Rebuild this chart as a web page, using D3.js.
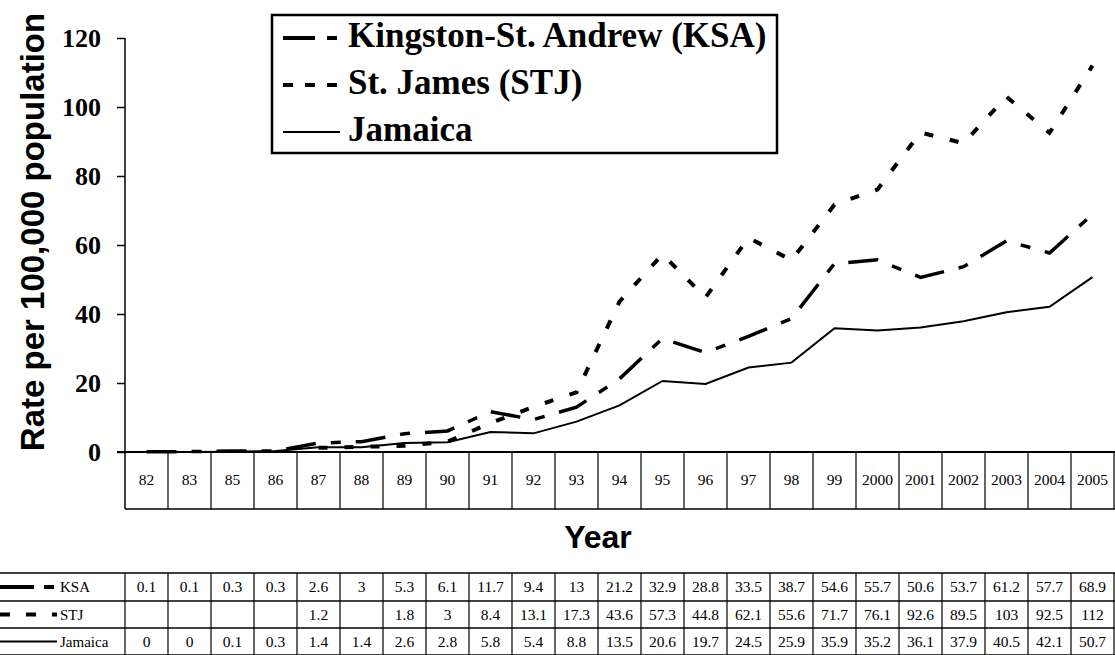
<!DOCTYPE html>
<html>
<head>
<meta charset="utf-8">
<script src="https://cdn.jsdelivr.net/npm/d3@7"></script>
<style>
html,body{margin:0;padding:0;background:#fff;}
svg{display:block;}
</style>
</head>
<body>
<svg id="chart" width="1115" height="655"></svg>
<script>
const years = ["82","83","85","86","87","88","89","90","91","92","93","94","95","96","97","98","99","2000","2001","2002","2003","2004","2005"];
const ksa = [0.1,0.1,0.3,0.3,2.6,3,5.3,6.1,11.7,9.4,13,21.2,32.9,28.8,33.5,38.7,54.6,55.7,50.6,53.7,61.2,57.7,68.9];
const stj = [null,null,null,null,1.2,null,1.8,3,8.4,13.1,17.3,43.6,57.3,44.8,62.1,55.6,71.7,76.1,92.6,89.5,103,92.5,112];
const jam = [0,0,0.1,0.3,1.4,1.4,2.6,2.8,5.8,5.4,8.8,13.5,20.6,19.7,24.5,25.9,35.9,35.2,36.1,37.9,40.5,42.1,50.7];
const yTicks = [0,20,40,60,80,100,120];
const seriesNames = ["Kingston-St. Andrew (KSA)","St. James (STJ)","Jamaica"];
const seriesShort = ["KSA","STJ","Jamaica"];
const yTitle = "Rate per 100,000 population";
const xTitle = "Year";

const serif = "'Liberation Serif','Times New Roman',serif";
const sans = "'Liberation Sans',Arial,sans-serif";
const styles = [
  {w:3.5, dash:"30,15,10,15"},
  {w:4, dash:"9,17"},
  {w:2, dash:null}
];

const svg = d3.select("#chart");
const x = d3.scaleBand().domain(years).range([125,1114]).padding(0);
const y = d3.scaleLinear().domain([0,120]).range([452,38]);
const cx = d => x(d) + x.bandwidth()/2;

// y axis
const yAxis = d3.axisLeft(y).tickValues(yTicks).tickSize(8).tickPadding(16).tickFormat(d3.format("d"));
const gy = svg.append("g").attr("transform","translate(125,0)").call(yAxis);
gy.select(".domain").remove();
gy.selectAll(".tick line").attr("stroke","#000").attr("stroke-width",1.5);
gy.selectAll(".tick text").attr("font-family",serif).attr("font-weight","bold").attr("font-size",26).attr("fill","#000");
svg.append("line").attr("x1",125).attr("x2",125).attr("y1",y(120)).attr("y2",509).attr("stroke","#000").attr("stroke-width",1.5);

// x axis / category table
const tableTop = y(0), tableBot = 509;
svg.append("line").attr("x1",117).attr("x2",1115).attr("y1",tableTop).attr("y2",tableTop).attr("stroke","#000").attr("stroke-width",2);
svg.append("line").attr("x1",125).attr("x2",1115).attr("y1",tableBot).attr("y2",tableBot).attr("stroke","#000").attr("stroke-width",1.5);
svg.append("g").selectAll("line").data(years.slice(1).concat(["end"])).join("line")
  .attr("x1",d=> d==="end"?1114:x(d)).attr("x2",d=> d==="end"?1114:x(d))
  .attr("y1",tableTop).attr("y2",tableBot).attr("stroke","#000").attr("stroke-width",1.2);
svg.append("g").selectAll("text").data(years).join("text")
  .attr("x",d=>cx(d)).attr("y",(tableTop+tableBot)/2+4)
  .attr("text-anchor","middle").attr("font-family",serif).attr("font-size",15.5).text(d=>d);

// titles
svg.append("text").attr("transform","translate(44,232) rotate(-90)").attr("text-anchor","middle")
  .attr("font-family",sans).attr("font-weight","bold").attr("font-size",33).text(yTitle);
svg.append("text").attr("x",598).attr("y",548).attr("text-anchor","middle")
  .attr("font-family",sans).attr("font-weight","bold").attr("font-size",32).text(xTitle);

// lines
const allSeries = [ksa, stj, jam];
allSeries.forEach((vals,i)=>{
  const pts = years.map((yr,j)=>({yr, v: vals[j]})).filter(p=>p.v!==null);
  const line = d3.line().x(p=>cx(p.yr)).y(p=>y(p.v));
  const p = svg.append("path").datum(pts).attr("d",line).attr("fill","none")
    .attr("stroke","#000").attr("stroke-width",styles[i].w).attr("stroke-linejoin","miter");
  if(styles[i].dash) p.attr("stroke-dasharray",styles[i].dash);
});

// legend box
svg.append("rect").attr("x",272).attr("y",15).attr("width",505).attr("height",138)
  .attr("fill","#fff").attr("stroke","#000").attr("stroke-width",2.5);
const legY = [38,85,132];
const legDash = ["32,12,10,12","10,12",null];
seriesNames.forEach((n,i)=>{
  const l = svg.append("line").attr("x1",283).attr("x2",340).attr("y1",legY[i]).attr("y2",legY[i])
    .attr("stroke","#000").attr("stroke-width", i===2?2:4);
  if(legDash[i]) l.attr("stroke-dasharray",legDash[i]);
  svg.append("text").attr("x",348).attr("y",legY[i]+9).attr("font-family",serif).attr("font-weight","bold")
    .attr("font-size",35).text(n);
});

// data table
const rowLines = [573,601,628,655];
svg.append("g").selectAll("line").data(rowLines).join("line")
  .attr("x1",0).attr("x2",1115).attr("y1",d=>d).attr("y2",d=>d).attr("stroke","#000").attr("stroke-width",1.5);
const vbounds = [125].concat(years.slice(1).map(d=>x(d))).concat([1114]);
svg.append("g").selectAll("line").data(vbounds).join("line")
  .attr("x1",d=>d).attr("x2",d=>d).attr("y1",rowLines[0]).attr("y2",rowLines[3]).attr("stroke","#000").attr("stroke-width",1.2);
const tblDash = ["34,10,10,10","10,16",null];
allSeries.forEach((vals,i)=>{
  const ry = (rowLines[i]+rowLines[i+1])/2;
  const l = svg.append("line").attr("x1",0).attr("x2",57).attr("y1",ry).attr("y2",ry)
    .attr("stroke","#000").attr("stroke-width", i===2?2:4);
  if(tblDash[i]) l.attr("stroke-dasharray",tblDash[i]);
  svg.append("text").attr("x",60).attr("y",ry+5).attr("font-family",serif).attr("font-size",15).text(seriesShort[i]);
  svg.append("g").selectAll("text").data(years.map((yr,j)=>({yr,v:vals[j]})).filter(p=>p.v!==null)).join("text")
    .attr("x",p=>cx(p.yr)).attr("y",ry+5).attr("text-anchor","middle")
    .attr("font-family",serif).attr("font-size",15.5).text(p=>String(p.v));
});
</script>
</body>
</html>
